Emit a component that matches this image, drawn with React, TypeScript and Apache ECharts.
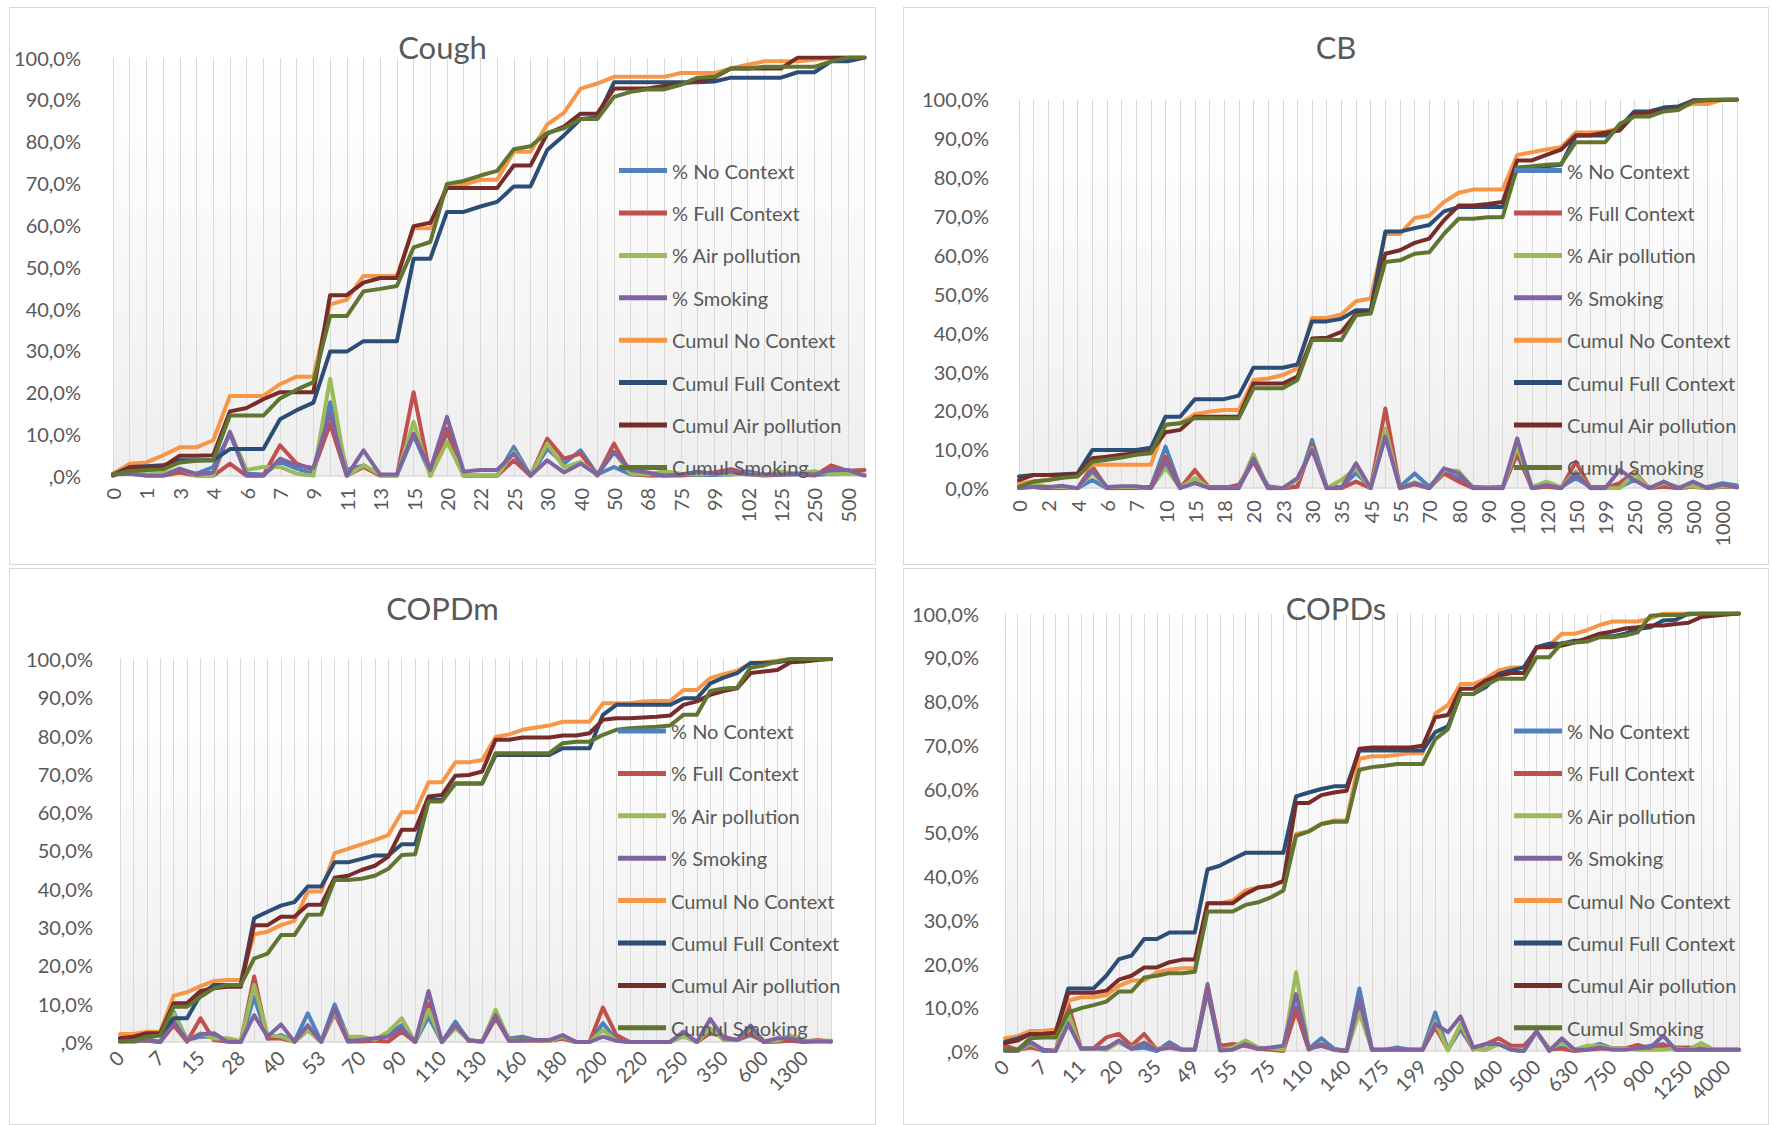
import React, { useEffect, useRef } from "react";
import * as echarts from "echarts";

const SERIES_NAMES = [
  "% No Context",
  "% Full Context",
  "% Air pollution",
  "% Smoking",
  "Cumul No Context",
  "Cumul Full Context",
  "Cumul Air pollution",
  "Cumul Smoking",
];
const SERIES_COLORS = ["#4F81BD", "#C0504D", "#9BBB59", "#8064A2", "#F79646", "#2C4D75", "#772C2A", "#5F7530"];

// ---------------- Cough ----------------
const coughCategories = ["0", "0,5", "1", "2", "3", "3,5", "4", "5", "6", "6,5", "7", "8", "9", "10", "11", "12", "13", "14", "15", "18", "20", "21", "22", "24", "25", "28", "30", "35", "40", "45", "50", "60", "68", "70", "75", "80", "99", "100", "102", "120", "125", "200", "250", "300", "500", "1000"];
const coughPctNC = [0.5, 1.5, 0.2, 0.3, 1.5, 0.5, 2.1, 10.0, 0.5, 0.3, 3.3, 1.7, 0.5, 17.6, 1.4, 2.5, 0.2, 0.2, 9.7, 0.5, 10.5, 0, 0, 0, 6.9, 0, 6.5, 2.9, 6.1, 0.3, 2.1, 0.3, 0.2, 0.2, 0.2, 0.2, 0.2, 0.3, 1.1, 0.2, 0.3, 0.3, 0.2, 0.5, 1.0, 0.2];
const coughPctFC = [0.3, 1.5, 0, 0, 0.8, 0, 0, 2.9, 0, 0, 7.3, 2.9, 1.4, 12.4, 0, 2.1, 0, 0, 20.0, 0, 11.3, 0, 0, 0, 3.7, 0, 8.9, 4.1, 5.3, 0, 7.7, 0.5, 0, 0, 0, 0.5, 0.8, 1.6, 0.5, 0, 0.3, 0.5, 0, 2.5, 1.2, 1.4];
const coughPctAP = [0.3, 0.8, 0.3, 0.5, 1.7, 0, 0, 10.5, 1.4, 2.1, 2.1, 0.5, 0, 23.2, 0, 2.5, 0.3, 0, 12.9, 0, 8.1, 0, 0, 0, 5.7, 0, 7.7, 2.0, 3.3, 0.3, 5.7, 0.5, 0.3, 1.1, 0.5, 0.3, 0.5, 0.3, 0.5, 0.2, 1.0, 0.5, 1.1, 0.3, 0.5, 0.3];
const coughPctSM = [0.3, 0.5, 0, 0, 1.7, 0.3, 0.8, 10.5, 0, 0, 4.1, 2.5, 1.9, 15.0, 0, 6.1, 0.3, 0.3, 10.1, 1.4, 14.1, 1.0, 1.4, 1.4, 5.3, 0, 3.7, 0.8, 2.9, 0.3, 5.7, 1.4, 0.8, 0, 0.3, 1.0, 0.5, 1.0, 0.3, 0.3, 0.3, 0.5, 0.3, 1.4, 1.4, 0];
const coughCumNC = [0.5, 2.9, 3.2, 4.9, 6.8, 6.8, 8.5, 19.1, 19.1, 19.1, 21.9, 23.7, 23.7, 41.0, 42.1, 47.8, 47.8, 47.8, 59.2, 59.2, 69.6, 69.6, 70.8, 70.8, 77.5, 77.5, 84.0, 86.8, 92.6, 93.8, 95.4, 95.4, 95.4, 95.4, 96.3, 96.3, 96.3, 97.4, 98.3, 99.1, 99.1, 99.1, 99.5, 100, 100, 100];
const coughCumFC = [0.3, 2.1, 2.3, 2.5, 3.7, 3.7, 3.7, 6.4, 6.4, 6.4, 13.5, 15.7, 17.5, 29.7, 29.7, 32.2, 32.2, 32.2, 51.9, 51.9, 63.1, 63.1, 64.4, 65.5, 69.2, 69.2, 77.9, 81.4, 85.3, 85.7, 94.1, 94.1, 94.1, 94.1, 94.1, 94.1, 94.3, 95.2, 95.2, 95.2, 95.2, 96.5, 96.5, 99.1, 99.1, 100];
const coughCumAP = [0, 2.0, 2.0, 2.2, 4.8, 4.8, 4.9, 15.4, 16.2, 18.3, 20.0, 20.0, 20.0, 43.2, 43.2, 46.2, 47.3, 47.3, 59.7, 60.5, 68.8, 68.8, 68.8, 68.8, 74.2, 74.2, 81.8, 83.5, 86.6, 86.6, 92.6, 92.6, 92.6, 93.2, 93.7, 94.4, 95.2, 97.4, 97.4, 97.4, 97.4, 100, 100, 100, 100, 100];
const coughCumSM = [0.3, 1.1, 1.4, 1.5, 3.2, 3.6, 3.7, 14.4, 14.4, 14.4, 18.5, 20.6, 22.4, 38.2, 38.2, 44.1, 44.7, 45.4, 54.6, 55.9, 69.8, 70.5, 71.8, 72.9, 78.1, 78.8, 82.0, 83.1, 85.3, 85.3, 90.6, 91.8, 92.4, 92.4, 93.5, 95.2, 95.4, 97.4, 97.4, 97.8, 97.8, 97.8, 97.8, 99.1, 100, 100];

// ---------------- CB ----------------
const cbCategories = ["0", "1", "2", "3", "4", "5", "6", "6,5", "7", "8", "10", "12", "15", "17", "18", "19", "20", "21", "23", "25", "30", "33", "35", "40", "45", "50", "55", "60", "70", "75", "80", "85", "90", "95", "100", "110", "120", "130", "150", "180", "199", "200", "250", "280", "300", "400", "500", "600", "1000", "2000"];
const cbPctNC = [0.5, 0.3, 0, 0.3, 0, 2.1, 0, 0, 0, 0.3, 10.7, 0.3, 1.7, 0.3, 0.3, 0.3, 6.9, 0.5, 0, 0.5, 12.4, 0.3, 0.3, 3.9, 0.3, 13.3, 0.4, 3.8, 0.4, 4.3, 2.6, 0.3, 0.3, 0.3, 8.6, 0.4, 0.4, 0.3, 2.6, 0.3, 0.3, 0.3, 2.1, 0.3, 0.5, 0.3, 0.4, 0.3, 1.3, 0.7];
const cbPctFC = [1.5, 0.3, 0, 0, 0, 5.6, 0, 0, 0, 0.4, 8.1, 0, 4.7, 0, 0, 0.9, 6.9, 0, 0, 0.4, 11.1, 0, 0, 1.7, 0, 20.5, 0, 1.0, 0, 3.8, 1.7, 0, 0, 0, 9.0, 0, 0.4, 0, 6.8, 0, 0, 1.3, 4.3, 0, 0.4, 0, 0.4, 0, 0.4, 0.3];
const cbPctAP = [0, 1.0, 0.3, 0.3, 0, 3.9, 0.3, 0.3, 0.3, 0, 5.3, 0, 2.6, 0, 0, 0, 8.7, 0, 0, 2.1, 10.3, 0, 2.1, 5.1, 0, 15.4, 0, 1.5, 0, 4.7, 4.4, 0, 0.3, 0, 10.7, 0.3, 1.7, 0.3, 4.3, 0, 0, 0, 3.8, 0, 1.3, 0.3, 0.5, 0, 0.5, 0.3];
const cbPctSM = [0, 0.3, 0.3, 0.6, 0, 4.7, 0.3, 0.5, 0.5, 0, 6.9, 0, 1.3, 0, 0, 0, 7.7, 0, 0, 2.6, 9.9, 0, 0, 6.4, 0, 13.3, 0, 1.3, 0, 5.1, 3.8, 0, 0, 0, 12.8, 0, 0.8, 0, 3.8, 0, 0, 4.7, 2.1, 0, 1.7, 0, 1.7, 0, 1.0, 0.2];
const cbCumNC = [1.3, 1.7, 2.1, 3.0, 3.4, 6.0, 6.0, 6.0, 6.0, 6.0, 16.3, 16.7, 19.0, 19.7, 20.1, 20.1, 27.8, 28.2, 29.1, 30.8, 43.8, 43.8, 44.7, 48.1, 48.8, 65.4, 65.4, 69.5, 70.1, 73.6, 76.0, 76.8, 76.8, 76.8, 85.7, 86.4, 87.1, 87.7, 91.5, 91.5, 91.7, 92.6, 95.8, 95.8, 97.9, 98.2, 98.8, 98.8, 99.9, 100];
const cbCumFC = [3.0, 3.4, 3.4, 3.6, 3.8, 9.8, 9.8, 9.8, 9.8, 10.4, 18.4, 18.4, 22.9, 22.9, 22.9, 23.8, 31.0, 31.0, 31.0, 31.8, 42.9, 42.9, 43.6, 45.8, 45.8, 66.0, 66.0, 66.9, 67.7, 71.2, 72.3, 72.3, 72.3, 72.3, 82.3, 82.3, 82.8, 83.2, 90.7, 90.7, 90.7, 92.8, 96.9, 96.9, 97.9, 98.2, 99.7, 99.9, 99.9, 100];
const cbCumAP = [2.1, 3.4, 3.4, 3.4, 3.6, 7.7, 8.1, 8.6, 9.0, 9.4, 14.4, 15.0, 18.4, 18.4, 18.4, 18.4, 26.9, 26.9, 26.9, 28.7, 38.5, 38.7, 40.2, 44.9, 45.3, 60.3, 61.2, 63.1, 64.2, 68.9, 72.7, 72.7, 73.1, 73.6, 84.3, 84.3, 85.7, 87.1, 90.7, 90.8, 91.4, 92.0, 96.2, 96.7, 97.1, 97.5, 99.7, 99.8, 99.9, 100];
const cbCumSM = [0.4, 1.7, 2.1, 2.7, 3.0, 6.8, 7.3, 7.9, 8.6, 9.0, 16.3, 16.7, 18.0, 18.0, 18.0, 18.0, 25.7, 25.7, 25.7, 27.8, 38.1, 38.1, 38.1, 44.5, 44.9, 58.2, 58.6, 60.3, 60.7, 65.4, 69.3, 69.3, 69.7, 69.7, 82.5, 82.8, 83.2, 83.4, 89.0, 89.0, 89.0, 93.7, 95.6, 95.6, 96.9, 97.3, 99.4, 99.9, 100, 100];

// ---------------- COPDm ----------------
const copdmCategories = ["0", "3", "5", "7", "10", "12", "15", "20", "25", "28", "30", "35", "40", "45", "50", "53", "60", "65", "70", "75", "80", "90", "99", "100", "110", "120", "125", "130", "150", "155", "160", "170", "175", "180", "190", "195", "200", "210", "215", "220", "230", "240", "250", "280", "300", "350", "400", "500", "600", "1000", "1200", "1300", "2000", "3000"];
const copdmPctNC = [1.0, 0.3, 0.8, 0, 7.9, 0.5, 1.4, 1.4, 0.2, 0, 11.8, 0.9, 1.8, 0.1, 7.5, 0.1, 9.8, 1.1, 0.3, 0.5, 2.2, 4.4, 0, 6.6, 0, 5.3, 0.3, 0.1, 6.5, 0.9, 1.4, 0.5, 0.5, 0.9, 0, 0, 4.9, 0.5, 0, 0, 0, 0, 2.3, 0, 3.1, 1.0, 0.5, 1.8, 0.2, 0.1, 0.5, 0.1, 0.2, 0.2];
const copdmPctFC = [0.5, 0.2, 0.3, 0, 4.4, 0.1, 6.2, 0.5, 0.1, 0, 17.1, 0.9, 0.9, 0.1, 3.1, 0, 7.5, 0.1, 0.1, 0.3, 0.1, 2.7, 0, 10.1, 0, 4.4, 0.3, 0.1, 6.2, 0.3, 0.5, 0.3, 0.3, 0.9, 0, 0, 9.0, 1.8, 0, 0, 0, 0, 1.8, 0, 2.3, 1.4, 0.5, 2.3, 0, 0.1, 0.3, 0, 0.5, 0.1];
const copdmPctAP = [0.3, 0.1, 0.5, 0.1, 7.5, 0.5, 2.3, 0.9, 1.0, 0.3, 14.9, 1.8, 1.4, 0.1, 3.1, 0.1, 7.9, 1.4, 1.4, 0.6, 2.7, 6.2, 0, 8.4, 0, 3.6, 0.5, 0.1, 8.4, 0.5, 0.3, 0.5, 0.3, 1.4, 0, 0, 3.1, 0.3, 0, 0, 0, 0, 1.4, 0, 3.6, 0.5, 0.5, 3.6, 0.3, 0.3, 1.7, 0.3, 0.3, 0.3];
const copdmPctSM = [0.1, 0.1, 0.5, 0, 5.3, 0.5, 2.0, 2.3, 0.1, 0, 7.0, 1.4, 4.6, 0.1, 4.4, 0.1, 8.8, 0.1, 0.5, 1.0, 1.4, 3.6, 0, 13.3, 0, 4.4, 0.5, 0.1, 7.0, 0.3, 0.3, 0.5, 0.5, 1.8, 0, 0, 1.4, 0.3, 0, 0, 0, 0, 2.7, 0, 6.0, 1.0, 0.5, 4.3, 0, 1.0, 1.0, 0.1, 0.1, 0.1];
const copdmCumNC = [2.1, 2.1, 2.7, 2.7, 12.1, 13.0, 14.6, 15.9, 16.2, 16.2, 28.1, 28.8, 30.5, 31.6, 39.3, 39.3, 49.3, 50.4, 51.6, 52.7, 54.0, 60.0, 60.0, 67.8, 67.8, 73.0, 73.0, 73.6, 79.6, 80.3, 81.5, 82.1, 82.6, 83.6, 83.6, 83.6, 88.4, 88.4, 88.4, 88.9, 89.0, 89.0, 91.9, 91.9, 95.0, 96.0, 96.9, 98.9, 99.1, 99.5, 100, 100, 100, 100];
const copdmCumFC = [1.0, 1.0, 1.8, 1.8, 6.2, 6.2, 12.3, 14.9, 14.9, 14.9, 32.3, 34.0, 35.6, 36.5, 40.6, 40.6, 46.9, 46.9, 47.8, 48.7, 48.7, 51.6, 51.6, 63.2, 63.2, 67.5, 67.5, 67.5, 74.9, 74.9, 74.9, 74.9, 74.9, 76.7, 76.7, 76.7, 85.4, 88.0, 88.0, 88.0, 88.0, 88.0, 89.7, 89.7, 93.6, 95.1, 96.3, 98.9, 98.9, 99.1, 99.7, 100, 100, 100];
const copdmCumAP = [1.0, 1.4, 2.3, 2.3, 10.1, 10.1, 13.3, 14.0, 14.4, 14.4, 30.5, 30.5, 32.7, 32.7, 35.8, 35.8, 42.9, 43.4, 44.9, 46.0, 48.4, 55.4, 55.4, 64.1, 64.5, 69.5, 69.7, 70.6, 78.9, 78.9, 79.5, 79.5, 79.5, 80.0, 80.0, 80.6, 84.1, 84.5, 84.5, 84.7, 84.9, 85.2, 88.0, 88.9, 90.6, 91.6, 92.3, 96.3, 96.7, 97.1, 99.1, 99.3, 99.7, 100];
const copdmCumSM = [0.1, 0.3, 1.4, 1.7, 9.2, 9.2, 11.8, 14.0, 14.9, 14.9, 21.8, 23.1, 27.9, 27.9, 33.2, 33.3, 42.3, 42.3, 42.6, 43.4, 45.2, 48.8, 49.0, 62.8, 62.8, 67.5, 67.5, 67.5, 75.4, 75.4, 75.4, 75.4, 75.4, 78.0, 78.4, 78.4, 80.2, 81.5, 81.9, 82.1, 82.3, 82.6, 85.4, 85.4, 91.6, 92.3, 92.5, 97.7, 98.3, 99.3, 100, 100, 100, 100];

// ---------------- COPDs ----------------
const copdsCategories = ["0", "2", "5", "7", "8", "10", "11", "14", "15", "20", "25", "30", "35", "40", "45", "49", "50", "52", "55", "60", "70", "75", "80", "100", "110", "120", "130", "140", "150", "160", "175", "180", "190", "199", "200", "250", "300", "350", "365", "400", "450", "480", "500", "520", "600", "630", "700", "730", "750", "800", "850", "900", "1000", "1200", "1250", "1500", "2000", "4000", "5000"];
const copdsPctNC = [0.8, 0.2, 1.2, 0, 0, 7.5, 0.6, 0.6, 0.8, 2.0, 0.5, 0.8, 0, 2.0, 0.3, 0.3, 15.3, 0.5, 0.5, 1.4, 0.5, 0.5, 0.5, 10.0, 0.5, 2.9, 0.5, 0, 14.3, 0.3, 0.3, 0.8, 0.3, 0.3, 8.8, 0.3, 5.0, 0.5, 0.3, 1.6, 0.3, 0, 4.3, 0.3, 0.8, 0.3, 0.8, 1.6, 0.6, 0.6, 0.6, 1.2, 1.6, 0.3, 0.3, 0.3, 0.3, 0.3, 0.3];
const copdsPctFC = [1.2, 0.3, 0.8, 0.3, 0, 10.7, 0.6, 0.6, 3.1, 3.9, 1.2, 3.9, 0.3, 1.2, 0.3, 0.3, 14.6, 1.2, 1.6, 1.2, 0.5, 0.3, 0, 9.2, 0.3, 1.6, 0.3, 0, 10.0, 0.3, 0.3, 0.5, 0.3, 0.3, 5.4, 0.3, 5.8, 0.3, 1.6, 2.9, 1.2, 1.2, 4.3, 0.5, 0.5, 0, 0.3, 0.5, 0.6, 0.6, 1.4, 0.6, 1.2, 0.8, 0.8, 0.6, 0.3, 0.3, 0.3];
const copdsPctAP = [0.3, 0, 1.6, 0.3, 0, 8.5, 0.6, 0.6, 0.3, 2.0, 0.8, 2.0, 0.5, 0.8, 0.3, 0.3, 13.4, 0.3, 0.8, 2.4, 0.8, 0.6, 0.3, 18.0, 0.6, 1.2, 0.3, 0, 8.8, 0.3, 0.3, 0.3, 0.3, 0.3, 6.7, 0.1, 6.2, 0.5, 0.3, 1.6, 0.3, 0, 4.3, 0.3, 2.0, 0.3, 1.2, 1.2, 0.6, 0.6, 0.3, 0.3, 0.3, 0.6, 0.3, 1.8, 0.3, 0.3, 0.3];
const copdsPctSM = [0, 0, 2.1, 0.3, 0, 6.2, 0.6, 0.6, 0.6, 2.4, 0.5, 1.8, 0.3, 0.8, 0.3, 0.3, 13.8, 0.1, 0.3, 1.6, 0.5, 0.8, 1.2, 13.0, 0.6, 1.2, 0.3, 0, 11.9, 0.3, 0.3, 0.3, 0.3, 0.3, 6.2, 4.3, 7.9, 0.8, 1.6, 1.6, 0.3, 0, 4.6, 0, 2.9, 0.3, 0.3, 0.8, 0.3, 0.3, 0.6, 0.8, 3.5, 0.3, 0.3, 0.3, 0.3, 0.3, 0.3];
const copdsCumNC = [2.9, 3.4, 4.6, 4.6, 4.9, 11.5, 12.3, 12.3, 12.8, 14.9, 16.1, 16.1, 18.0, 18.6, 18.9, 18.9, 33.8, 33.8, 34.4, 36.7, 37.4, 37.8, 38.7, 49.6, 50.2, 51.9, 52.7, 52.7, 66.8, 67.4, 67.4, 67.7, 68.1, 68.1, 77.1, 79.1, 83.9, 83.9, 85.1, 87.0, 87.7, 87.7, 92.1, 92.7, 95.4, 95.4, 96.2, 97.4, 98.2, 98.2, 98.2, 98.9, 100, 100, 100, 100, 100, 100, 100];
const copdsCumFC = [2.1, 2.9, 3.9, 3.9, 4.1, 14.3, 14.3, 14.3, 17.2, 21.0, 21.8, 25.6, 25.6, 27.1, 27.1, 27.1, 41.5, 42.4, 43.9, 45.3, 45.3, 45.3, 45.3, 58.2, 59.1, 59.9, 60.5, 60.5, 68.7, 68.7, 68.7, 68.7, 68.7, 68.7, 72.9, 74.2, 81.6, 81.6, 83.2, 86.2, 87.0, 87.7, 92.3, 93.1, 93.1, 93.8, 93.8, 94.8, 94.8, 95.4, 96.5, 96.9, 98.4, 98.6, 100, 100, 100, 100, 100];
const copdsCumAP = [1.8, 2.4, 3.9, 3.9, 4.1, 13.3, 13.3, 13.3, 13.8, 16.3, 17.2, 19.1, 19.1, 20.3, 20.9, 20.9, 33.8, 33.8, 33.8, 35.9, 37.4, 37.7, 38.9, 56.7, 56.7, 58.5, 59.1, 59.5, 69.1, 69.4, 69.4, 69.4, 69.4, 69.8, 76.3, 76.8, 82.8, 82.8, 84.7, 85.8, 86.4, 86.4, 92.3, 92.3, 92.7, 93.4, 94.4, 95.4, 95.9, 96.6, 96.9, 97.3, 97.3, 97.6, 97.9, 99.2, 99.5, 99.8, 100];
const copdsCumSM = [0.3, 0.3, 2.9, 3.1, 3.1, 8.8, 9.8, 10.5, 11.3, 13.6, 13.6, 16.8, 17.2, 17.8, 17.8, 18.1, 31.9, 31.9, 31.9, 33.4, 34.0, 35.1, 36.7, 49.2, 50.2, 51.9, 52.4, 52.4, 64.3, 64.9, 65.2, 65.6, 65.6, 65.6, 71.3, 73.6, 81.6, 81.6, 83.7, 85.1, 85.1, 85.1, 90.0, 90.0, 93.3, 93.4, 93.6, 94.6, 94.6, 95.0, 95.7, 99.5, 99.7, 99.7, 99.8, 100, 100, 100, 100];

const FONT = "Lato, 'Open Sans', sans-serif";
const TEXT_COLOR = "#595959";
const GRID_LINE = "#d9d9d9";

type PanelDef = {
  title: string;
  categories: string[];
  series: number[][];
  zeroLabel: string;
  box: { left: number; top: number; width: number; height: number };
  grid: { left: number; right: number; top: number; bottom: number };
  labelInterval: number;
  labelRotate: number;
  yLabelMargin: number;
  legendLeft: number;
  legendTop: number;
  titleTop: number;
};

const PANELS: PanelDef[] = [
  {
    title: "Cough",
    categories: coughCategories,
    series: [coughPctNC, coughPctFC, coughPctAP, coughPctSM, coughCumNC, coughCumFC, coughCumAP, coughCumSM],
    zeroLabel: ",0%",
    box: { left: 9, top: 7, width: 867, height: 558 },
    grid: { left: 104, right: 11.5, top: 50.6, bottom: 89.2 },
    labelInterval: 1,
    labelRotate: 90,
    yLabelMargin: 32,
    legendLeft: 610,
    legendTop: 153.6,
    titleTop: 22,
  },
  {
    title: "CB",
    categories: cbCategories,
    series: [cbPctNC, cbPctFC, cbPctAP, cbPctSM, cbCumNC, cbCumFC, cbCumAP, cbCumSM],
    zeroLabel: "0,0%",
    box: { left: 903, top: 7, width: 866, height: 558 },
    grid: { left: 116, right: 32, top: 92.4, bottom: 76.8 },
    labelInterval: 1,
    labelRotate: 90,
    yLabelMargin: 30,
    legendLeft: 611,
    legendTop: 153.6,
    titleTop: 22,
  },
  {
    title: "COPDm",
    categories: copdmCategories,
    series: [copdmPctNC, copdmPctFC, copdmPctAP, copdmPctSM, copdmCumNC, copdmCumFC, copdmCumAP, copdmCumSM],
    zeroLabel: ",0%",
    box: { left: 9, top: 568, width: 867, height: 557 },
    grid: { left: 111, right: 45, top: 90.9, bottom: 83 },
    labelInterval: 2,
    labelRotate: 45,
    yLabelMargin: 27,
    legendLeft: 609,
    legendTop: 153,
    titleTop: 22,
  },
  {
    title: "COPDs",
    categories: copdsCategories,
    series: [copdsPctNC, copdsPctFC, copdsPctAP, copdsPctSM, copdsCumNC, copdsCumFC, copdsCumAP, copdsCumSM],
    zeroLabel: ",0%",
    box: { left: 903, top: 568, width: 866, height: 557 },
    grid: { left: 102, right: 30, top: 45.6, bottom: 74 },
    labelInterval: 2,
    labelRotate: 45,
    yLabelMargin: 26,
    legendLeft: 611,
    legendTop: 153,
    titleTop: 22,
  },
];

function Panel({ def }: { def: PanelDef }) {
  const ref = useRef<HTMLDivElement>(null);
  useEffect(() => {
    if (!ref.current) return;
    const chart = echarts.init(ref.current, undefined, { renderer: "svg" });
    chart.setOption({
      animation: false,
      textStyle: { fontFamily: FONT },
      title: {
        text: def.title,
        left: "center",
        top: def.titleTop,
        padding: 0,
        textStyle: { fontFamily: FONT, fontSize: 31, fontWeight: "normal", color: TEXT_COLOR, lineHeight: 36 },
      },
      legend: {
        orient: "vertical",
        left: def.legendLeft,
        top: def.legendTop,
        padding: 0,
        icon: "rect",
        itemWidth: 48,
        itemHeight: 5,
        itemGap: 22.4,
        data: SERIES_NAMES,
        textStyle: { fontFamily: FONT, fontSize: 20, color: TEXT_COLOR, lineHeight: 20 },
      },
      grid: {
        ...def.grid,
        show: true,
        borderWidth: 0,
        backgroundColor: {
          type: "linear",
          x: 0,
          y: 0,
          x2: 0,
          y2: 1,
          colorStops: [
            { offset: 0, color: "#ffffff" },
            { offset: 0.3, color: "#fbfbfb" },
            { offset: 1, color: "#eeeeee" },
          ],
        },
      },
      xAxis: {
        type: "category",
        data: def.categories,
        boundaryGap: false,
        axisTick: { show: false },
        axisLine: { lineStyle: { color: GRID_LINE, width: 1.5 } },
        axisLabel: {
          interval: def.labelInterval,
          rotate: def.labelRotate,
          margin: 12,
          fontFamily: FONT,
          fontSize: 20,
          color: TEXT_COLOR,
        },
        splitLine: { show: true, interval: 0, lineStyle: { color: GRID_LINE, width: 1 } },
      },
      yAxis: {
        type: "value",
        min: 0,
        max: 100,
        interval: 10,
        axisLine: { show: false },
        axisTick: { show: false },
        splitLine: { show: false },
        axisLabel: {
          margin: def.yLabelMargin,
          fontFamily: FONT,
          fontSize: 20,
          color: TEXT_COLOR,
          formatter: (v: number) => (v === 0 ? def.zeroLabel : v.toFixed(1).replace(".", ",") + "%"),
        },
      },
      series: SERIES_NAMES.map((name, i) => ({
        name,
        type: "line",
        data: def.series[i],
        showSymbol: false,
        symbol: "none",
        lineStyle: { width: 4, color: SERIES_COLORS[i], cap: "round", join: "round" },
        itemStyle: { color: SERIES_COLORS[i] },
        emphasis: { disabled: true },
      })),
    });
    return () => chart.dispose();
  }, [def]);
  const { left, top, width, height } = def.box;
  return (
    <>
      <div
        style={{
          position: "absolute",
          left,
          top,
          width,
          height,
          boxSizing: "border-box",
          border: "1.5px solid #d9d9d9",
          background: "#ffffff",
        }}
      />
      <div ref={ref} style={{ position: "absolute", left, top, width, height }} />
    </>
  );
}

export default function App() {
  return (
    <div
      style={{
        position: "fixed",
        left: 0,
        top: 0,
        width: 1772,
        height: 1125,
        background: "#ffffff",
        overflow: "hidden",
      }}
    >
      {PANELS.map((p) => (
        <Panel key={p.title} def={p} />
      ))}
    </div>
  );
}
